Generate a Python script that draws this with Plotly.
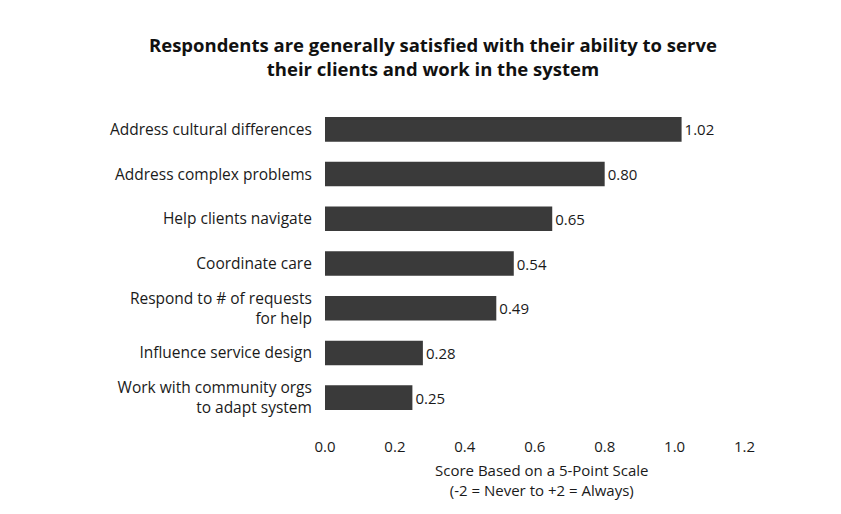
import plotly.graph_objects as go

# Survey items (top to bottom) and their mean scores
categories = [
    "Address cultural differences",
    "Address complex problems",
    "Help clients navigate",
    "Coordinate care",
    "Respond to # of requests<br>for help",
    "Influence service design",
    "Work with community orgs<br>to adapt system",
]
scores = [1.02, 0.80, 0.65, 0.54, 0.49, 0.28, 0.25]
tick_values = [0.0, 0.2, 0.4, 0.6, 0.8, 1.0, 1.2]
tick_text = ["0.0", "0.2", "0.4", "0.6", "0.8", "1.0", "1.2"]
title_text = ("Respondents are generally satisfied with their ability to serve"
              "<br>their clients and work in the system")
axis_title_text = "Score Based on a 5-Point Scale<br>(-2 = Never to +2 = Always)"

FONT = "Open Sans, Noto Sans, sans-serif"
BAR_COLOR = "#3a3a3a"
TEXT_COLOR = "#1a1a1a"
W, H = 841, 514
ML, MR, MT, MB = 325, 79, 107, 94
PLOT_W, PLOT_H = W - ML - MR, H - MT - MB

fig = go.Figure(
    go.Bar(
        x=scores,
        y=categories,
        orientation="h",
        width=0.55,
        marker=dict(color=BAR_COLOR, line=dict(width=0)),
        text=[f"{v:.2f}" for v in scores],
        textposition="outside",
        textfont=dict(family=FONT, size=15, color=TEXT_COLOR),
        cliponaxis=False,
        hoverinfo="skip",
    )
)

annotations = [
    # Chart title
    dict(
        text=f"<b>{title_text}</b>",
        xref="paper", yref="paper",
        x=(433 - ML) / PLOT_W,
        y=1 + (MT - 56.5) / PLOT_H,
        xanchor="center", yanchor="middle",
        showarrow=False,
        font=dict(family=FONT, size=18.5, color="#111111"),
    ),
    # Axis title below the tick labels
    dict(
        text=axis_title_text,
        xref="paper", yref="paper",
        x=0.497,
        y=-(480 - (H - MB)) / PLOT_H,
        xanchor="center", yanchor="middle",
        showarrow=False,
        font=dict(family=FONT, size=15, color=TEXT_COLOR),
    ),
]

fig.update_layout(
    width=W,
    height=H,
    paper_bgcolor="white",
    plot_bgcolor="white",
    margin=dict(l=ML, r=MR, t=MT, b=MB),
    showlegend=False,
    font=dict(family=FONT, color=TEXT_COLOR),
    annotations=annotations,
)

fig.update_xaxes(
    range=[0, 1.25],
    tickvals=tick_values,
    ticktext=tick_text,
    tickfont=dict(family=FONT, size=15, color=TEXT_COLOR),
    showgrid=False,
    zeroline=False,
    showline=False,
    ticks="outside",
    ticklen=13,
    tickcolor="rgba(0,0,0,0)",
)

fig.update_yaxes(
    categoryorder="array",
    categoryarray=categories[::-1],
    range=[-0.5, len(categories) - 0.5],
    tickfont=dict(family=FONT, size=15.5, color=TEXT_COLOR),
    showgrid=False,
    zeroline=False,
    showline=False,
    ticks="outside",
    ticklen=9,
    tickcolor="rgba(0,0,0,0)",
)

fig.write_html("out.html")
